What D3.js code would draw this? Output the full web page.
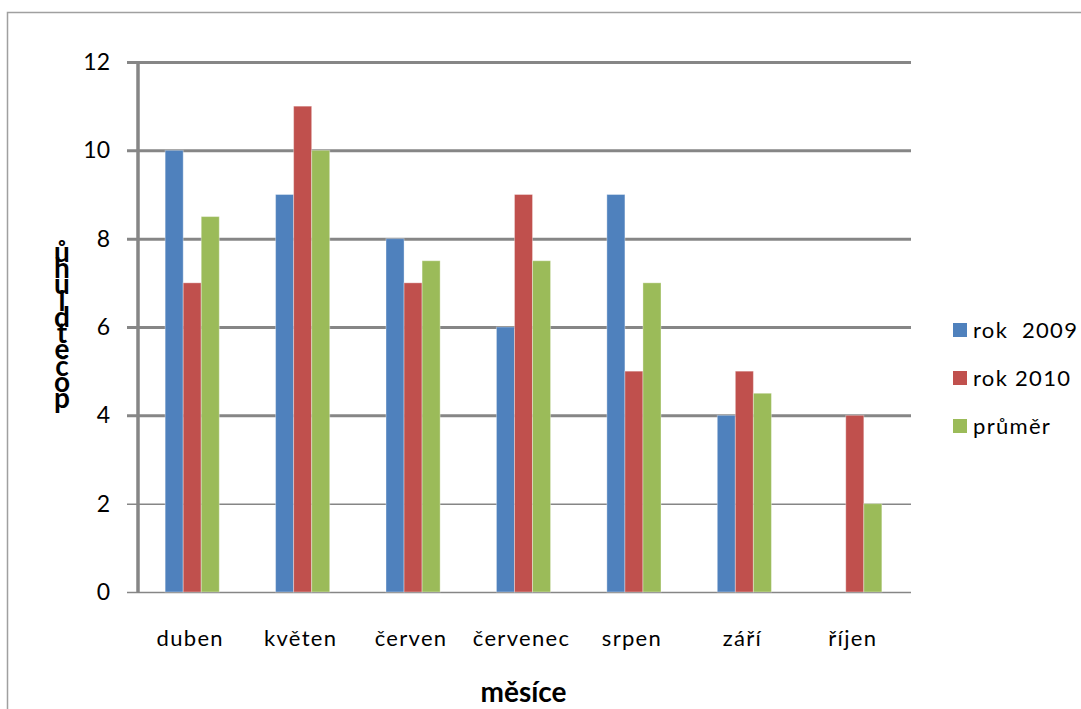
<!DOCTYPE html>
<html>
<head>
<meta charset="utf-8">
<script src="https://cdn.jsdelivr.net/npm/d3@7/dist/d3.min.js"></script>
<style>
  html, body { margin: 0; padding: 0; background: #fff; }
  svg { display: block; font-family: Lato, "Open Sans", "DejaVu Sans", sans-serif; }
</style>
</head>
<body>
<svg id="chart" width="1081" height="709"></svg>
<script>
// Months (categories)
const months = ["duben", "květen", "červen", "červenec", "srpen", "září", "říjen"];
// Series values
const rok2009 = [10, 9, 8, 6, 9, 4, 0];
const rok2010 = [7, 11, 7, 9, 5, 5, 4];
const prumer  = [8.5, 10, 7.5, 7.5, 7, 4.5, 2];
// Series names and colours
const seriesNames = ["rok  2009", "rok 2010", "průměr"];
const seriesColors = ["#4F81BD", "#C0504D", "#9BBB59"];
// Y tick labels
const yTicks = [0, 2, 4, 6, 8, 10, 12];
// Axis titles
const xTitle = "měsíce";
const yTitle = "počet dluhů";

const series = [rok2009, rok2010, prumer];
const svg = d3.select("#chart");

// outer chart frame
svg.append("rect")
  .attr("x", 7.5).attr("y", 12.5)
  .attr("width", 1200).attr("height", 800)
  .attr("fill", "none").attr("stroke", "#a0a0a0").attr("stroke-width", 1.5);

const plot = { left: 138, right: 911, top: 62, bottom: 592 };

const x0 = d3.scaleBand().domain(months).range([plot.left, plot.right]).padding(0);
const groupW = x0.bandwidth() * 0.49;
const x1 = d3.scaleBand().domain(d3.range(series.length)).range([0, groupW]).padding(0);
const y = d3.scaleLinear().domain([0, 12]).range([plot.bottom, plot.top]);

// value gridlines with tick labels
const yAxis = d3.axisLeft(y).tickValues(yTicks).tickSize(-(plot.right - 127)).tickPadding(17);
const gy = svg.append("g").attr("transform", "translate(127,0)").call(yAxis);
gy.select(".domain").remove();
gy.selectAll(".tick line")
  .attr("stroke", "#868686")
  .attr("stroke-width", d => d >= 4 ? 3 : 1.5);
gy.selectAll(".tick text")
  .attr("fill", "#000").attr("font-size", 23)
  .attr("font-family", "Lato, 'Open Sans', sans-serif");

// bars
months.forEach((m, i) => {
  const gx = x0(m) + (x0.bandwidth() - groupW) / 2 - 1;
  series.forEach((s, k) => {
    const v = s[i];
    if (!v) return;
    svg.append("rect")
      .attr("x", gx + x1(k))
      .attr("y", y(v))
      .attr("width", x1.bandwidth())
      .attr("height", y(0) - y(v))
      .attr("fill", seriesColors[k])
      .attr("stroke", "rgba(255,255,255,0.35)")
      .attr("stroke-width", 1);
  });
});

// vertical axis line
svg.append("line")
  .attr("x1", plot.left).attr("x2", plot.left)
  .attr("y1", plot.top).attr("y2", plot.bottom)
  .attr("stroke", "#868686").attr("stroke-width", 3.5);

// category labels
const xAxis = d3.axisBottom(x0).tickSize(0).tickPadding(0);
const gx = svg.append("g").attr("transform", `translate(-3,${plot.bottom})`).call(xAxis);
gx.select(".domain").remove();
gx.selectAll(".tick text")
  .attr("y", 0).attr("dy", 0)
  .attr("transform", "translate(0,54)")
  .attr("fill", "#000").attr("font-size", 22)
  .attr("letter-spacing", 1.3)
  .attr("font-family", "Lato, 'Open Sans', sans-serif");

// x axis title
svg.append("text")
  .attr("x", (plot.left + plot.right) / 2 - 1).attr("y", 702)
  .attr("text-anchor", "middle")
  .attr("font-size", 28).attr("font-weight", "bold")
  .attr("fill", "#000")
  .text(xTitle);

// y axis title: characters stacked upright, read bottom to top, tightly packed
const stacked = Array.from(yTitle.replace(" ", "")).reverse().join("");
svg.append("text")
  .attr("x", 62).attr("y", 234)
  .attr("font-size", 28).attr("font-weight", "bold")
  .attr("fill", "#000")
  .style("writing-mode", "vertical-rl")
  .style("text-orientation", "upright")
  .attr("textLength", 180)
  .attr("lengthAdjust", "spacing")
  .text(stacked);

// legend
const lg = svg.append("g");
seriesNames.forEach((n, k) => {
  const cy = 330 + k * 48;
  lg.append("rect")
    .attr("x", 953).attr("y", cy - 7).attr("width", 14).attr("height", 14)
    .attr("fill", seriesColors[k]);
  lg.append("text")
    .attr("x", 973).attr("y", cy + 8)
    .attr("font-size", 22).attr("letter-spacing", 1.3)
    .attr("fill", "#000")
    .style("white-space", "pre")
    .text(n);
});
</script>
</body>
</html>
